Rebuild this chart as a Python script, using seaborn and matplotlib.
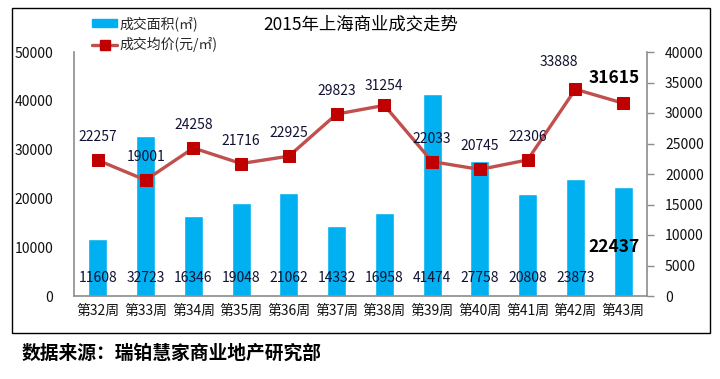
import numpy as np
import pandas as pd
import matplotlib
matplotlib.use('Agg')
import matplotlib.pyplot as plt
import matplotlib.patches as mpatches
from matplotlib.lines import Line2D
import seaborn as sns

weeks = ["第32周", "第33周", "第34周", "第35周", "第36周", "第37周",
         "第38周", "第39周", "第40周", "第41周", "第42周", "第43周"]
area = [11608, 32723, 16346, 19048, 21062, 14332,
        16958, 41474, 27758, 20808, 23873, 22437]
price = [22257, 19001, 24258, 21716, 22925, 29823,
         31254, 22033, 20745, 22306, 33888, 31615]

left_ticks = [0, 10000, 20000, 30000, 40000, 50000]
right_ticks = [0, 5000, 10000, 15000, 20000, 25000, 30000, 35000, 40000]

title = "2015年上海商业成交走势"
area_name = "成交面积(㎡)"
price_name = "成交均价(元/㎡)"
source = "数据来源：瑞铂慧家商业地产研究部"

BAR = "#00B0F0"
LINE = "#C0504D"
MARK = "#C00000"
GRID = "#8C8C8C"
TXT = "#111133"

sns.set_theme(style="white")
plt.rcParams['font.family'] = ['Noto Sans CJK SC', 'DejaVu Sans']

df = pd.DataFrame({"week": weeks, "area": area, "price": price})

W, H = 720, 379
fig = plt.figure(figsize=(W / 100, H / 100), dpi=100)
fig.patch.set_facecolor("white")
ax = fig.add_axes([74 / W, 1 - 296 / H, (647 - 74) / W, (296 - 52) / H])

sns.barplot(data=df, x="week", y="area", color=BAR, saturation=1,
            width=0.4, ax=ax)
ax.set_ylim(0, 50000)
ax.set_yticks(left_ticks)
ax.set_yticklabels([str(t) for t in left_ticks])
ax.set_xlabel("")
ax.set_ylabel("")
ax.tick_params(axis="y", length=0, pad=15, labelsize=10, labelcolor="#111111")
ax.tick_params(axis="x", length=0, pad=6, labelsize=10, labelcolor="#111111")
for s in ["top", "right"]:
    ax.spines[s].set_visible(False)
for s in ["left", "bottom"]:
    ax.spines[s].set_color(GRID)
    ax.spines[s].set_linewidth(1.2)

ax2 = ax.twinx()
pos = np.arange(len(weeks))
sns.lineplot(x=pos, y=df["price"], ax=ax2, color=LINE, linewidth=2.4,
             marker="s", markersize=8, markerfacecolor=MARK,
             markeredgecolor=MARK)
ax2.set_ylim(0, 40000)
ax2.set_yticks(right_ticks)
ax2.set_yticklabels([str(t) for t in right_ticks])
ax2.set_ylabel("")
ax2.tick_params(axis="y", length=5, width=1, color=GRID, pad=8,
                labelsize=10, labelcolor="#111111", direction="out")
for s in ["top", "left", "bottom"]:
    ax2.spines[s].set_visible(False)
ax2.spines["right"].set_color(GRID)
ax2.spines["right"].set_linewidth(1.2)
ax.set_xlim(-0.5, len(weeks) - 0.5)

# bar value labels (last one is highlighted)
for i, v in enumerate(area):
    if i == len(area) - 1:
        ax.annotate(str(v), (i, 0), xytext=(-9, 49), textcoords="offset pixels",
                    ha="center", va="center", fontsize=12.5, fontweight="bold",
                    color="black")
    else:
        ax.annotate(str(v), (i, 0), xytext=(0, 18), textcoords="offset pixels",
                    ha="center", va="center", fontsize=10, color=TXT)

# price labels
price_offsets = {6: (0, 19), 10: (-16, 27), 11: (-9, 25)}
for i, v in enumerate(price):
    dx, dy = price_offsets.get(i, (0, 23))
    bold = i == len(price) - 1
    ax2.annotate(str(v), (i, v), xytext=(dx, dy), textcoords="offset pixels",
                 ha="center", va="center",
                 fontsize=12.5 if bold else 10,
                 fontweight="bold" if bold else "normal",
                 color="black" if bold else TXT)

fig.text(361 / W, 1 - 25 / H, title, ha="center", va="center",
         fontsize=12.5, color="black")

handles = [mpatches.Patch(color=BAR, label=area_name),
           Line2D([], [], color=LINE, lw=2.4, marker="s", markersize=6.5,
                  markerfacecolor=MARK, markeredgecolor=MARK, label=price_name)]
fig.legend(handles=handles, loc="upper left",
           bbox_to_anchor=(92 / W, 1 - 16 / H), frameon=False, fontsize=10,
           handlelength=1.8, handleheight=0.5, handletextpad=0.15,
           labelspacing=0.45, borderaxespad=0, borderpad=0)

fig.text(22 / W, 1 - 353 / H, source, ha="left", va="center",
         fontsize=13.5, fontweight="bold", color="black")

fig.add_artist(mpatches.Rectangle((12 / W, 1 - 333 / H), (710 - 12) / W,
                                  (333 - 8) / H, transform=fig.transFigure,
                                  fill=False, ec="black", lw=1))

fig.savefig("out.png", dpi=100, facecolor="white")
